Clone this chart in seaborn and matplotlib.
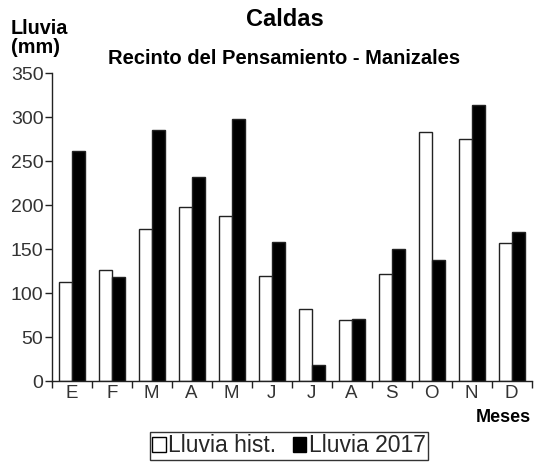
import matplotlib
matplotlib.use("Agg")
import matplotlib.pyplot as plt
from matplotlib.patches import Patch
import seaborn as sns
import pandas as pd
import numpy as np

meses = ["E", "F", "M", "A", "M", "J", "J", "A", "S", "O", "N", "D"]
lluvia_hist = [113, 126, 173, 198, 188, 119, 82, 69, 122, 283, 275, 157]
lluvia_2017 = [261, 118, 285, 232, 298, 158, 18, 70, 150, 138, 314, 169]
series = ["Lluvia hist.", "Lluvia 2017"]

n = len(meses)
df = pd.DataFrame({
    "pos": list(range(n)) * 2,
    "valor": lluvia_hist + lluvia_2017,
    "serie": [series[0]] * n + [series[1]] * n,
})

sns.set_theme(style="ticks")
plt.rcParams["font.family"] = ["Liberation Sans", "DejaVu Sans"]

fig = plt.figure(figsize=(5.36, 4.62), dpi=100)
ax = fig.add_axes([51.7 / 536, 1 - 381 / 462, 480 / 536, 308 / 462])

sns.barplot(data=df, x="pos", y="valor", hue="serie", hue_order=series,
            palette=["white", "black"], edgecolor="#222222", linewidth=1.0,
            width=0.66, gap=0, dodge=True, legend=False, ax=ax, errorbar=None)

ax.set_xlim(-0.5, n - 0.5)
ax.set_ylim(0, 350)
ax.set_yticks(np.arange(0, 351, 50))
ax.set_yticklabels([str(v) for v in range(0, 351, 50)], fontsize=14, color="#333333")
ax.set_xticks(np.arange(-0.5, n, 1.0))
ax.set_xticklabels([])
ax.set_xticks(range(n), minor=True)
ax.set_xticklabels(meses, minor=True, fontsize=13.5, color="#333333")
ax.tick_params(axis="x", which="major", direction="out", length=5, width=1, color="#222222")
ax.tick_params(axis="x", which="minor", length=0, pad=3)
ax.tick_params(axis="y", direction="out", length=5, width=1, color="#222222", pad=1)
ax.set_xlabel("")
ax.set_ylabel("")
for s in ["top", "right"]:
    ax.spines[s].set_visible(False)
for s in ["left", "bottom"]:
    ax.spines[s].set_color("#222222")
    ax.spines[s].set_linewidth(1.0)

fig.text(285 / 536, 1 - 20 / 462, "Caldas", ha="center", va="center",
         fontsize=17, fontweight="bold", color="black")
fig.text(284 / 536, 1 - 58 / 462, "Recinto del Pensamiento - Manizales", ha="center",
         va="center", fontsize=14.5, fontweight="bold", color="black")
fig.text(11 / 536, 1 - 38 / 462, "Lluvia\n(mm)", ha="left", va="center",
         fontsize=14.3, fontweight="bold", color="black", linespacing=1.0)
fig.text(531 / 536, 1 - 417 / 462, "Meses", ha="right", va="center",
         fontsize=13, fontweight="bold", color="black")

handles = [Patch(facecolor="white", edgecolor="black", linewidth=1.0),
           Patch(facecolor="black", edgecolor="black", linewidth=1.0)]
leg = fig.legend(handles, series, loc="center", bbox_to_anchor=(289 / 536, 1 - 446 / 462),
                 ncol=2, fontsize=16.5, frameon=True, fancybox=False, handlelength=0.6,
                 handleheight=0.6, handletextpad=0.1, columnspacing=0.7, borderpad=0.1,
                 borderaxespad=0)
leg.get_frame().set_edgecolor("black")
leg.get_frame().set_linewidth(1.0)

fig.savefig("out.png", dpi=100)
